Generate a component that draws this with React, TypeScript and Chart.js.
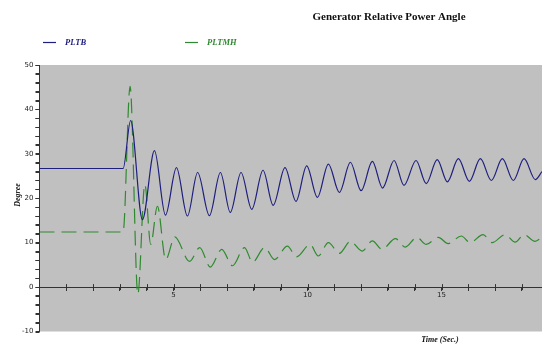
import React, { useEffect, useRef } from "react";
import { Chart, registerables } from "chart.js";

Chart.register(...registerables);

// ---- data ----
const PLTB_TIME = [0, 3.12, 3.4, 3.84, 4.29, 4.7, 5.11, 5.52, 5.9, 6.34, 6.75, 7.12, 7.52, 7.92, 8.34, 8.72, 9.16, 9.57, 9.97, 10.37, 10.78, 11.19, 11.6, 12.0, 12.42, 12.8, 13.23, 13.6, 14.05, 14.43, 14.84, 15.22, 15.63, 16.04, 16.45, 16.86, 17.27, 17.68, 18.08, 18.5, 18.75];
const PLTB_VALUE = [26.7, 26.7, 37.5, 15.2, 30.7, 16.2, 26.9, 16.0, 25.8, 16.1, 25.8, 16.8, 25.8, 17.5, 26.3, 18.4, 26.9, 19.3, 27.3, 20.2, 27.7, 21.3, 28.1, 21.7, 28.3, 22.3, 28.5, 22.9, 28.5, 23.3, 28.7, 23.7, 28.9, 23.8, 28.9, 24.0, 28.9, 24.0, 28.9, 24.2, 26.0];

const PLTMH_TIME = [0, 3.12, 3.38, 3.67, 3.93, 4.15, 4.4, 4.71, 5.05, 5.6, 5.98, 6.37, 6.8, 7.2, 7.65, 7.95, 8.4, 8.77, 9.25, 9.59, 10.1, 10.4, 10.78, 11.19, 11.6, 12.04, 12.42, 12.78, 13.28, 13.65, 14.08, 14.43, 14.88, 15.25, 15.74, 16.07, 16.55, 16.89, 17.37, 17.75, 18.08, 18.49, 18.75];
const PLTMH_VALUE = [12.4, 12.4, 45.2, -1.6, 23.1, 9.6, 18.2, 6.2, 11.3, 5.8, 8.9, 4.5, 8.5, 4.8, 8.9, 5.6, 8.9, 6.2, 9.2, 6.8, 9.6, 7.0, 10.0, 7.6, 10.3, 8.1, 10.4, 8.5, 10.9, 9.0, 11.2, 9.6, 11.2, 9.8, 11.5, 10.0, 11.8, 10.0, 11.8, 10.1, 11.8, 10.3, 11.2];

const SERIES_NAMES = ["PLTB", "PLTMH"];
const TITLE = "Generator Relative Power Angle";
const X_TITLE = "Time (Sec.)";
const Y_TITLE = "Degree";
const X_MIN = 0;
const X_MAX = 18.75;
const Y_MIN = -10;
const Y_MAX = 50;
const X_LABEL_EVERY = 5;
const Y_LABEL_EVERY = 10;
const Y_MINOR = 2;

const BLUE = "#1e1e7e";
const GREEN = "#2f8a2f";
const AXIS = "#333333";

const decor = {
  id: "decor",
  beforeDraw(chart: any) {
    const { ctx, chartArea: a } = chart;
    ctx.save();
    ctx.fillStyle = "#c0c0c0";
    ctx.fillRect(a.left, a.top, a.right - a.left, a.bottom - a.top);
    ctx.restore();
  },
  afterDraw(chart: any) {
    const { ctx, scales, chartArea: a } = chart;
    const xs = scales.x;
    const ys = scales.y;
    ctx.save();
    ctx.strokeStyle = AXIS;
    ctx.lineWidth = 1;
    // x tick marks crossing the zero line
    const y0 = ys.getPixelForValue(0);
    for (let v = X_MIN + 1; v <= X_MAX; v += 1) {
      const px = Math.round(xs.getPixelForValue(v)) + 0.5;
      ctx.beginPath();
      ctx.moveTo(px, y0 - 3);
      ctx.lineTo(px, y0 + 3);
      ctx.stroke();
    }
    // y minor tick marks
    const lx = Math.round(a.left) - 0.5;
    for (let v = Y_MIN; v <= Y_MAX; v += Y_MINOR) {
      const py = Math.round(ys.getPixelForValue(v)) + 0.5;
      ctx.beginPath();
      ctx.moveTo(lx - 4, py);
      ctx.lineTo(lx, py);
      ctx.stroke();
    }
    // title
    ctx.fillStyle = "#111";
    ctx.font = 'bold 11px "Liberation Serif"';
    ctx.textAlign = "center";
    ctx.textBaseline = "middle";
    ctx.fillText(TITLE, 389, 17);
    // legend
    const items = [
      { name: SERIES_NAMES[0], color: BLUE, x: 43 },
      { name: SERIES_NAMES[1], color: GREEN, x: 185 },
    ];
    ctx.font = 'italic bold 8.5px "Liberation Serif"';
    ctx.textAlign = "left";
    for (const it of items) {
      ctx.strokeStyle = it.color;
      ctx.lineWidth = 1.2;
      ctx.beginPath();
      ctx.moveTo(it.x, 42.5);
      ctx.lineTo(it.x + 13, 42.5);
      ctx.stroke();
      ctx.fillStyle = it.color;
      ctx.fillText(it.name, it.x + 22, 43);
    }
    // axis titles
    ctx.fillStyle = "#111";
    ctx.font = 'italic bold 8px "Liberation Serif"';
    ctx.textAlign = "center";
    ctx.fillText(X_TITLE, 440, 340);
    ctx.translate(18, 195);
    ctx.rotate(-Math.PI / 2);
    ctx.fillText(Y_TITLE, 0, 0);
    ctx.restore();
  },
};

export default function App() {
  const ref = useRef<HTMLCanvasElement>(null);
  useEffect(() => {
    if (!ref.current) return;
    const tickFont = { family: '"DejaVu Sans"', size: 7 };
    const chart = new Chart(ref.current, {
      type: "line",
      data: {
        datasets: [
          {
            label: SERIES_NAMES[0],
            data: PLTB_TIME.map((t, i) => ({ x: t, y: PLTB_VALUE[i] })),
            borderColor: BLUE,
            borderWidth: 1.2,
            pointRadius: 0,
            cubicInterpolationMode: "monotone",
            fill: false,
          },
          {
            label: SERIES_NAMES[1],
            data: PLTMH_TIME.map((t, i) => ({ x: t, y: PLTMH_VALUE[i] })),
            borderColor: GREEN,
            borderWidth: 1.2,
            borderDash: [15, 7],
            pointRadius: 0,
            cubicInterpolationMode: "monotone",
            fill: false,
          },
        ],
      },
      options: {
        responsive: false,
        animation: false,
        layout: { padding: { top: 65, bottom: 13.5, left: 0, right: 0 } },
        plugins: {
          legend: { display: false },
          title: { display: false },
          tooltip: { enabled: false },
        },
        scales: {
          x: {
            type: "linear",
            min: X_MIN,
            max: X_MAX,
            position: { y: 0 } as any,
            ticks: {
              stepSize: 1,
              autoSkip: false,
              maxRotation: 0,
              includeBounds: false,
              padding: 1,
              color: "#222",
              font: tickFont,
              callback: (v: any) => (v > 0 && v % X_LABEL_EVERY === 0 ? String(v) : ""),
            },
            grid: { display: true, drawOnChartArea: false, drawTicks: true, tickLength: 3, color: AXIS },
            border: { display: true, color: AXIS, width: 1 },
          },
          y: {
            type: "linear",
            min: Y_MIN,
            max: Y_MAX,
            afterFit: (s: any) => {
              s.width = 39.5;
            },
            ticks: {
              stepSize: Y_MINOR,
              autoSkip: false,
              padding: 2,
              color: "#222",
              font: tickFont,
              callback: (v: any) => (v % Y_LABEL_EVERY === 0 ? String(v) : ""),
            },
            grid: { display: true, drawOnChartArea: false, drawTicks: true, tickLength: 4, color: AXIS },
            border: { display: true, color: AXIS, width: 1 },
          },
        },
      },
      plugins: [decor],
    });
    return () => chart.destroy();
  }, []);
  return (
    <div style={{ position: "fixed", left: 0, top: 0, width: 542, height: 345, background: "#fff" }}>
      <canvas ref={ref} width={542} height={345} style={{ display: "block" }} />
    </div>
  );
}
